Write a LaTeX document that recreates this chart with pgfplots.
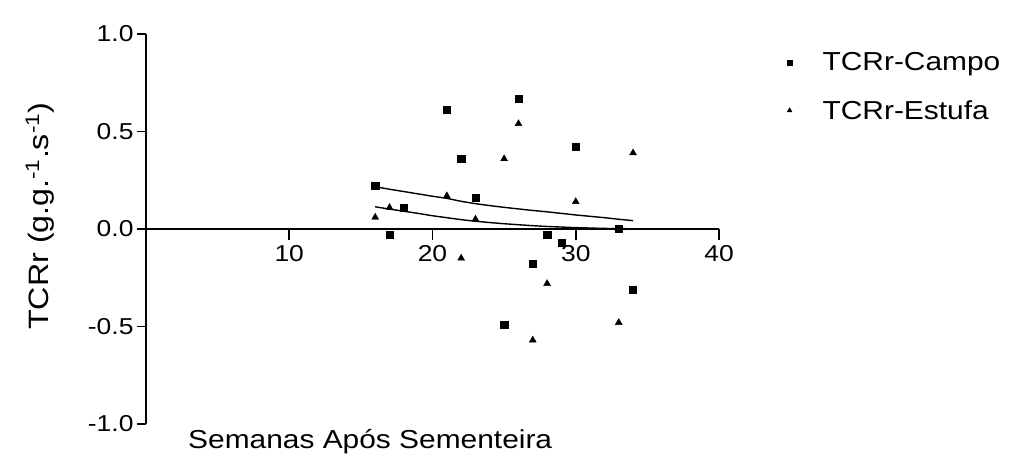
\documentclass[border=0pt]{standalone}
\usepackage{pgfplots}
\pgfplotsset{compat=1.18}
\usepackage{fontspec}
\setmainfont[FakeStretch=1.15]{Liberation Sans}

% relative growth rate, field vs. greenhouse
\pgfplotstableread{
x y
16 0.22
17 -0.03
18 0.11
21 0.61
22 0.36
23 0.16
25 -0.49
26 0.67
27 -0.18
28 -0.03
29 -0.07
30 0.42
33 0.00
34 -0.31
}\campo
\pgfplotstableread{
x y
16 0.06
17 0.11
21 0.17
22 -0.15
23 0.05
25 0.36
26 0.54
27 -0.57
28 -0.28
30 0.14
33 -0.48
34 0.39
}\estufa
% fitted trends
\pgfplotstableread{
x y
16 0.217
17 0.204
18 0.192
19 0.180
20 0.168
21 0.157
22 0.142
23 0.130
24 0.120
25 0.111
26 0.103
27 0.095
28 0.088
29 0.080
30 0.072
31 0.065
32 0.058
33 0.050
34 0.043
}\campofit
\pgfplotstableread{
x y
16 0.114
17 0.102
18 0.091
19 0.080
20 0.068
21 0.058
22 0.048
23 0.040
24 0.033
25 0.027
26 0.022
27 0.017
28 0.013
29 0.010
30 0.007
31 0.005
32 0.003
33 0.002
34 0.001
}\estufafit

\begin{document}
\begin{tikzpicture}
\useasboundingbox (0,0) rectangle (1011bp,458bp);
\begin{axis}[
  at={(146bp,34bp)}, anchor=south west,
  scale only axis, width=573bp, height=390bp,
  xmin=0, xmax=40, ymin=-1, ymax=1,
  axis x line=none, axis y line=left,
  axis line style={-, line width=1.5bp},
  every outer y axis line/.append style={-},
  xtick=\empty,
  ytick={-1,-0.5,0,0.5,1}, yticklabels={-1.0,-0.5,0.0,0.5,1.0},
  minor tick num=0,
  tick align=outside, major tick length=9bp,
  tick style={line width=1.3bp, black},
  ticklabel style={font=\fontsize{23bp}{23bp}\selectfont},
  clip=false,
  legend image code/.code={%
    \path[draw=none, fill=none] (0bp,0bp) -- (32bp,0bp);
    \draw[#1, mark size=2.8bp] plot coordinates {(0bp,0bp)};},
  legend style={at={(axis description cs:1.118,0.955)}, anchor=north west,
    draw=none, fill=none, inner sep=0pt, row sep=26bp,
    font=\fontsize{26bp}{26bp}\selectfont,
    nodes={inner sep=1bp}},
  legend cell align=left,
]
\addplot[only marks, mark=square*, mark size=3.6bp, black] table {\campo};
\addlegendentry{TCRr-Campo}
\addplot[only marks, mark=triangle*, mark size=4bp, black] table {\estufa};
\addlegendentry{TCRr-Estufa}
\addplot[forget plot, no marks, line width=1.4bp, black, smooth] table {\campofit};
\addplot[forget plot, no marks, line width=1.4bp, black, smooth] table {\estufafit};
% x axis at y = 0, with its ticks hanging below and labels under them
\draw[line width=1.5bp, black] (axis cs:0,0) -- (axis cs:40,0);
\pgfplotsinvokeforeach{10,20,30,40}{
  \draw[line width=1.7bp, black] (axis cs:#1,0) -- (axis cs:#1,-0.055);
  \node[anchor=north, inner sep=0pt, font=\fontsize{23bp}{23bp}\selectfont]
    at ([yshift=-16bp]axis cs:#1,0) {#1};
}
\end{axis}
\node[anchor=base west, inner sep=0pt, font=\fontsize{26bp}{26bp}\selectfont]
  at (188bp,10bp) {Semanas Após Sementeira};
\node[rotate=90, anchor=base west, inner sep=0pt, font=\fontsize{28bp}{28bp}\selectfont]
  at (48bp,128bp) {TCRr (g.g.\textsuperscript{-1}.s\textsuperscript{-1})};
\end{tikzpicture}
\end{document}
